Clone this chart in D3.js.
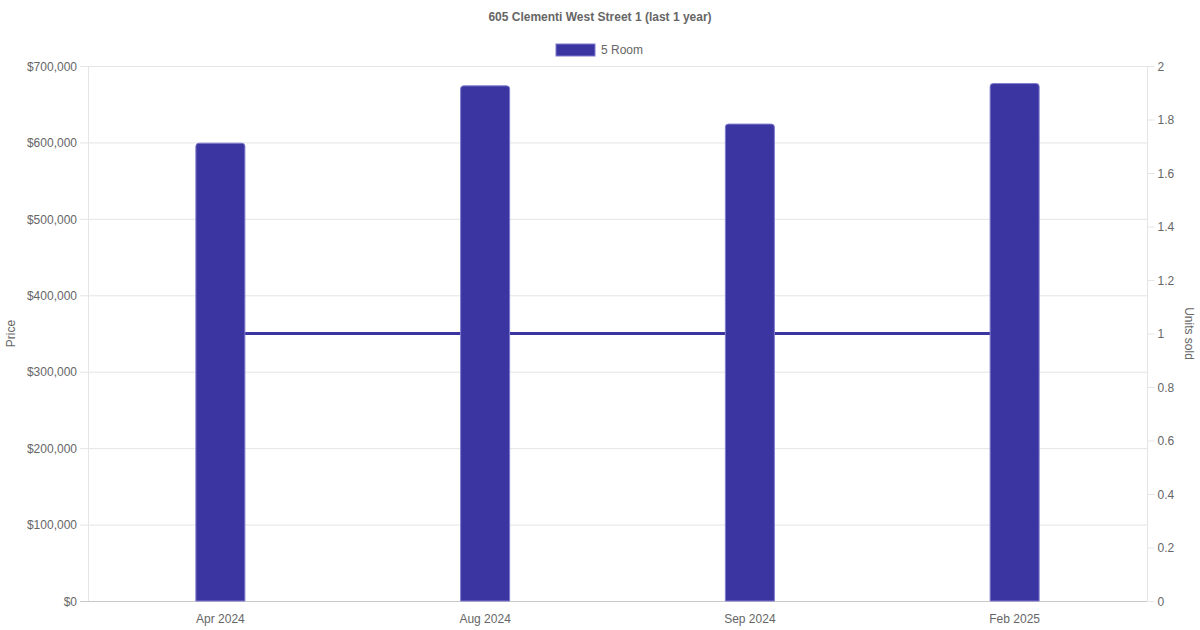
<!DOCTYPE html>
<html>
<head>
<meta charset="utf-8">
<script src="https://cdn.jsdelivr.net/npm/d3@7"></script>
<style>
  body { margin: 0; background: #fff; }
  text { font-family: "Liberation Sans", Arial, sans-serif; fill: #666; }
</style>
</head>
<body>
<div id="chart"></div>
<script>
  // chart data
  var months = ['Apr 2024', 'Aug 2024', 'Sep 2024', 'Feb 2025'];
  var prices = [599000, 674000, 624000, 677000];
  var unitsSold = [1, 1, 1, 1];
  var priceTicks = [0, 100000, 200000, 300000, 400000, 500000, 600000, 700000];
  var unitTicks = [0, 0.2, 0.4, 0.6, 0.8, 1, 1.2, 1.4, 1.6, 1.8, 2];

(function(){
  'use strict';

  var W = 1200, H = 630;
  var pLeft = 88, pRight = 1147, pTop = 66, pBottom = 601;
  var barColor = '#3a35a0', barBorder = '#7e7bcc';

  var svg = d3.select('#chart').append('svg')
    .attr('width', W).attr('height', H);

  var x = d3.scaleBand().domain(months).range([pLeft, pRight]);
  var y = d3.scaleLinear().domain([0, 700000]).range([pBottom, pTop]);
  var y2 = d3.scaleLinear().domain([0, 2]).range([pBottom, pTop]);

  //Title
  svg.append('text')
    .attr('x', W / 2).attr('y', 21)
    .attr('text-anchor', 'middle')
    .style('font-size', '12px').style('font-weight', 'bold')
    .text('605 Clementi West Street 1 (last 1 year)');

  //Legend
  svg.append('rect')
    .attr('x', 556).attr('y', 44).attr('width', 39).attr('height', 12)
    .attr('fill', barColor).attr('stroke', barBorder).attr('stroke-width', 1);
  svg.append('text')
    .attr('x', 601).attr('y', 54)
    .style('font-size', '12px')
    .text('5 Room');

  //Gridlines (with short tick on the left)
  svg.append('g').selectAll('line')
    .data(priceTicks)
    .enter().append('line')
    .attr('x1', pLeft - 8).attr('x2', pRight)
    .attr('y1', function(d){ return y(d) + 0.5; })
    .attr('y2', function(d){ return y(d) + 0.5; })
    .attr('stroke', function(d){ return d === 0 ? '#c8c8c8' : '#e5e5e5'; })
    .attr('stroke-width', 1);

  svg.append('line')
    .attr('x1', pLeft + 0.5).attr('x2', pLeft + 0.5)
    .attr('y1', pTop).attr('y2', pBottom)
    .attr('stroke', '#e5e5e5');
  svg.append('line')
    .attr('x1', pRight + 0.5).attr('x2', pRight + 0.5)
    .attr('y1', pTop).attr('y2', pBottom)
    .attr('stroke', '#e5e5e5');

  //Left axis
  var yAxis = svg.append('g')
    .attr('transform', 'translate(' + (pLeft - 11) + ',0)')
    .call(d3.axisLeft(y).tickValues(priceTicks).tickSize(0).tickPadding(0)
      .tickFormat(function(d){ return '$' + d3.format(',')(d); }));
  yAxis.select('.domain').remove();
  yAxis.selectAll('text').style('font-size', '12px').attr('fill', null).attr('dy', '0.35em');

  //Right axis
  var y2Axis = svg.append('g')
    .attr('transform', 'translate(' + (pRight + 0.5) + ',0)')
    .call(d3.axisRight(y2).tickValues(unitTicks).tickSize(7).tickPadding(3)
      .tickFormat(function(d){ return String(+d.toFixed(1)); }));
  y2Axis.select('.domain').remove();
  y2Axis.selectAll('line').attr('stroke', '#e5e5e5');
  y2Axis.selectAll('text').style('font-size', '12px').attr('fill', null).attr('dy', '0.35em');

  //Bottom axis
  var xAxis = svg.append('g')
    .attr('transform', 'translate(0,' + (pBottom + 13) + ')')
    .call(d3.axisBottom(x).tickSize(0).tickPadding(0));
  xAxis.select('.domain').remove();
  xAxis.selectAll('text').style('font-size', '12px').attr('fill', null).attr('dy', '0.71em');

  //Axis titles
  svg.append('text')
    .attr('transform', 'translate(15,' + ((pTop + pBottom) / 2) + ') rotate(-90)')
    .attr('text-anchor', 'middle')
    .style('font-size', '12px')
    .text('Price');
  svg.append('text')
    .attr('transform', 'translate(1185,' + ((pTop + pBottom) / 2) + ') rotate(90)')
    .attr('text-anchor', 'middle')
    .style('font-size', '12px')
    .text('Units sold');

  //Units sold line (behind bars)
  var line = d3.line()
    .x(function(d, i){ return x(months[i]) + x.bandwidth() / 2; })
    .y(function(d){ return y2(d); });
  svg.append('path')
    .datum(unitsSold)
    .attr('d', line)
    .attr('fill', 'none')
    .attr('stroke', barColor)
    .attr('stroke-width', 3);

  //Bars with rounded top corners
  var bw = 50, r = 3;
  svg.append('g').selectAll('path')
    .data(prices)
    .enter().append('path')
    .attr('d', function(d, i){
      var x0 = x(months[i]) + x.bandwidth() / 2 - bw / 2 + 0.5, x1 = x0 + bw - 1;
      var yt = y(d), yb = pBottom;
      return 'M' + x0 + ',' + yb +
        'V' + (yt + r) +
        'Q' + x0 + ',' + yt + ' ' + (x0 + r) + ',' + yt +
        'H' + (x1 - r) +
        'Q' + x1 + ',' + yt + ' ' + x1 + ',' + (yt + r) +
        'V' + yb + 'Z';
    })
    .attr('fill', barColor)
    .attr('stroke', barBorder)
    .attr('stroke-width', 1);
})();
</script>
</body>
</html>
